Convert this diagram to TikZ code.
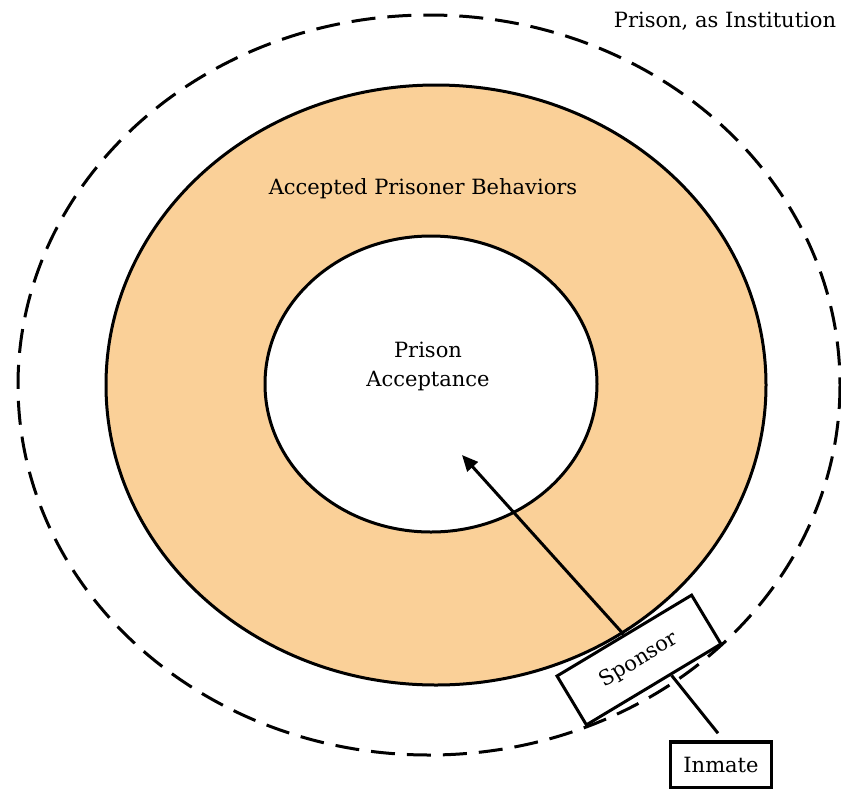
\documentclass[tikz,border=0pt]{standalone}
\usepackage{fontspec}
\setmainfont{DejaVu Serif}
\usetikzlibrary{arrows.meta,calc}
\definecolor{orangefill}{RGB}{250,208,152}
\tikzset{
  lbl/.style={font=\fontsize{21}{29}\selectfont, align=center, inner sep=0pt},
  ring/.style={draw=black, line width=3pt},
  boxnode/.style={draw=black, fill=white, inner sep=0pt, font=\fontsize{21}{25}\selectfont}
}
\begin{document}
\begin{tikzpicture}[x=1pt,y=-1pt]
\useasboundingbox (0,0) rectangle (841,788);
% outer dashed ellipse
\draw[line width=3pt, dash pattern=on 24pt off 12pt] (429,385) ellipse [x radius=411, y radius=370];
% orange ring
\draw[ring, fill=orangefill] (436,385) ellipse [x radius=330, y radius=300];
% inner white
\draw[ring, fill=white] (431,384) ellipse [x radius=166, y radius=148];
% labels
\node[lbl] (inst) at (725,21) {Prison, as Institution};
\node[lbl] (apb) at (423,189) {Accepted Prisoner Behaviors};
\node[lbl] (pa) at (428,366) {Prison\\Acceptance};
% sponsor
\node[boxnode, line width=3pt, minimum width=157pt, minimum height=57pt, rotate=31] (sponsor) at (639,660) {Sponsor};
\node[boxnode, line width=3.5pt, minimum width=101pt, minimum height=46pt] (inmate) at (721,765) {Inmate};
\coordinate (tip) at (462,455);
\draw[line width=3pt, -{Triangle[length=16pt,width=14pt]}] (sponsor.north) -- (tip);
\draw[line width=3pt] ($(sponsor.south)!0.25!(sponsor.south east)$) -- ($(inmate.north)+(-3,-7)$);
\end{tikzpicture}
\end{document}
